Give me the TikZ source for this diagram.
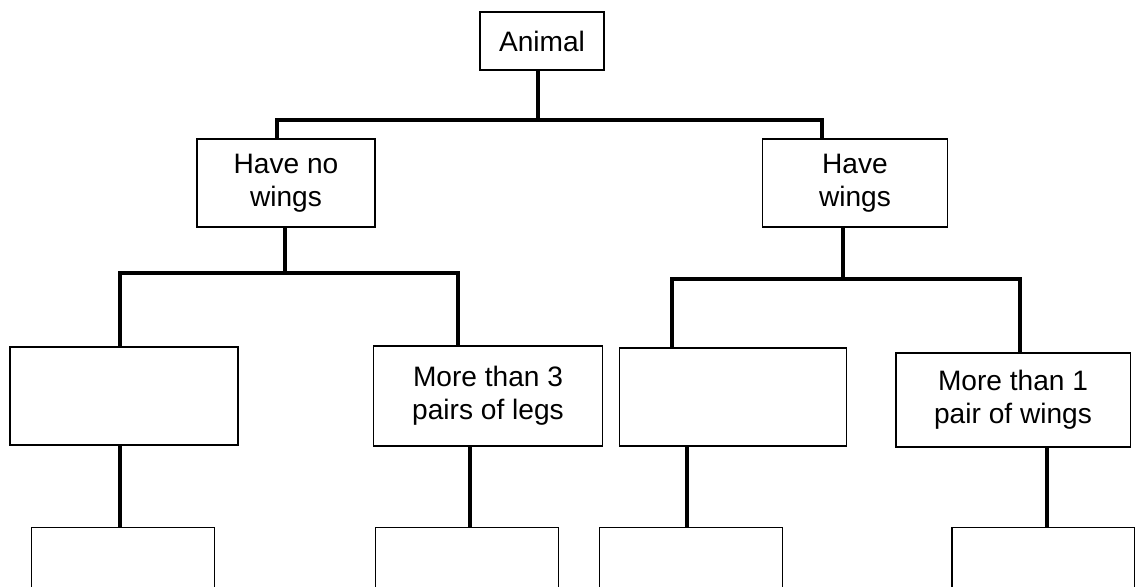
\documentclass[tikz,border=0pt]{standalone}
\usepackage{fontspec}
\setmainfont{Liberation Sans}
\usetikzlibrary{positioning}

\begin{document}
\begin{tikzpicture}[x=0.02cm, y=-0.02cm,
  keybox/.style={draw, line width=1.1pt, inner sep=2pt, align=center, font=\fontsize{16}{19}\selectfont},
  midbox/.style={keybox, minimum width=4.56cm, minimum height=1.96cm},
  leafbox/.style={keybox, minimum width=3.66cm, minimum height=1.46cm},
  link/.style={line width=1.8pt}]
  \useasboundingbox (0,0) rectangle (1135,586);

  % boxes
  \node[keybox, minimum width=2.48cm, minimum height=1.16cm] (animal) at (542,41) {Animal};
  \node[keybox, minimum width=3.56cm, minimum height=1.76cm] (nowings) at (286,183) {Have no\\wings};
  \node[keybox, minimum width=3.70cm, minimum height=1.76cm] (haswings) at (855,183) {Have\\wings};

  \node[midbox] (blankA) at (124,396) {};
  \node[midbox, minimum width=4.58cm, minimum height=2cm] (legs) at (488,396) {More than 3\\pairs of legs};
  \node[midbox, minimum width=4.54cm] (blankB) at (733,397) {};
  \node[midbox, minimum width=4.70cm, minimum height=1.88cm] (pairs) at (1013,400) {More than 1\\pair of wings};

  \node[leafbox] (leafA) at (123,564) {};
  \node[leafbox] (leafB) at (467,564) {};
  \node[leafbox] (leafC) at (691,564) {};
  \node[leafbox] (leafD) at (1043,564) {};

  % junctions
  \coordinate (topdrop) at (538,120);
  \coordinate (topbarL) at (277,120);
  \coordinate (topbarR) at (822,120);
  \coordinate (nwdrop) at (285,273);
  \coordinate (nwbarL) at (120,273);
  \coordinate (nwbarR) at (458,273);
  \coordinate (hwdrop) at (843,279);
  \coordinate (hwbarL) at (672,279);
  \coordinate (hwbarR) at (1020,279);
  \coordinate (dropA) at (120,490);
  \coordinate (dropB) at (470,490);
  \coordinate (dropC) at (687,490);
  \coordinate (dropD) at (1047,490);

  % connectors
  \draw[link] (animal.south -| topdrop) -- (topdrop);
  \draw[link] (nowings.north -| topbarL) -- (topbarL) -- (topbarR) -- (haswings.north -| topbarR);
  \draw[link] (nowings.south -| nwdrop) -- (nwdrop);
  \draw[link] (blankA.north -| nwbarL) -- (nwbarL) -- (nwbarR) -- (legs.north -| nwbarR);
  \draw[link] (haswings.south -| hwdrop) -- (hwdrop);
  \draw[link] (blankB.north -| hwbarL) -- (hwbarL) -- (hwbarR) -- (pairs.north -| hwbarR);
  \draw[link] (blankA.south -| dropA) -- (leafA.north -| dropA);
  \draw[link] (legs.south -| dropB) -- (leafB.north -| dropB);
  \draw[link] (blankB.south -| dropC) -- (leafC.north -| dropC);
  \draw[link] (pairs.south -| dropD) -- (leafD.north -| dropD);
\end{tikzpicture}
\end{document}
